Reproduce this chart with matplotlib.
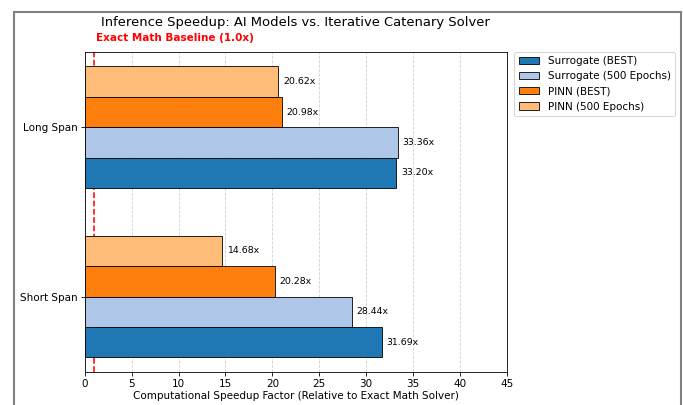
import numpy as np
import matplotlib.pyplot as plt
from matplotlib.patches import Rectangle

# === Datos ===
spans = ["Short Span", "Long Span"]
surrogate_best = [31.69, 33.20]
surrogate_500 = [28.44, 33.36]
pinn_best = [20.28, 20.98]
pinn_500 = [14.68, 20.62]

series = [
    ("Surrogate (BEST)", surrogate_best, "#1f77b4"),
    ("Surrogate (500 Epochs)", surrogate_500, "#aec7e8"),
    ("PINN (BEST)", pinn_best, "#ff7f0e"),
    ("PINN (500 Epochs)", pinn_500, "#ffbb78"),
]

baseline = 1.0

# === Figura ===
fig = plt.figure(figsize=(9.12, 5.4), dpi=75)
ax = fig.add_axes([0.124, 0.0815, 0.617, 0.7905])

y = np.arange(len(spans))
h = 0.18
offsets = [-1.5 * h, -0.5 * h, 0.5 * h, 1.5 * h]

for (nombre, vals, color), off in zip(series, offsets):
    bars = ax.barh(y + off, vals, height=h, color=color, edgecolor="black",
                   linewidth=0.8, label=nombre, zorder=3)
    for b, v in zip(bars, vals):
        ax.text(v + 0.5, b.get_y() + b.get_height() / 2, f"{v:.2f}x",
                va="center", ha="left", fontsize=9)

ax.axvline(baseline, color="red", linestyle="--", linewidth=1.5, zorder=1)
ax.text(baseline + 0.2, 1.044, f"Exact Math Baseline ({baseline:.1f}x)",
        transform=ax.get_xaxis_transform(), color="red", fontweight="bold",
        fontsize=10, ha="left", va="center")

ax.set_yticks(y)
ax.set_yticklabels(spans)
ax.set_xlim(0, 45)
ax.set_xticks(np.arange(0, 50, 5))
ax.set_xlabel("Computational Speedup Factor (Relative to Exact Math Solver)",
              labelpad=2)
ax.set_title("Inference Speedup: AI Models vs. Iterative Catenary Solver",
             fontsize=12.6, pad=25)
ax.grid(axis="x", linestyle="--", alpha=0.6)
ax.set_axisbelow(True)
ax.legend(loc="upper left", bbox_to_anchor=(1.018, 1.0), borderaxespad=0)

# marco gris alrededor de la figura
fig.patches.append(Rectangle((0.0205, -0.1), 0.975, 1.07, transform=fig.transFigure,
                             fill=False, edgecolor="#808080", linewidth=2))

fig.savefig("out.png", dpi=75)
